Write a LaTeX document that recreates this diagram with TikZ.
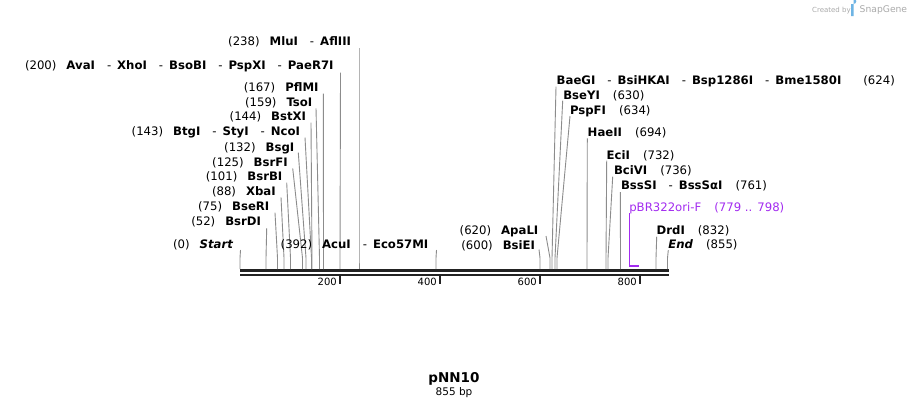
\documentclass[tikz,border=0pt]{standalone}
\usepackage{fontspec}
\setmainfont{DejaVu Sans}
\definecolor{siteGray}{RGB}{140,140,140}
\definecolor{barBlack}{RGB}{34,34,34}
\definecolor{primerPurple}{RGB}{163,44,240}
\definecolor{wmGray}{RGB}{170,170,170}
\definecolor{wmBlue}{RGB}{110,180,228}
\newcommand{\nm}[1]{\textbf{#1}}
\newcommand{\sepp}{\hspace{12pt}-\hspace{6pt}}
\newcommand{\gapn}{\hspace{10pt}}
\newcommand{\gapr}{\hspace{13pt}}
% left-side site: id, text, textx, texty, topx, topy, barx
\newcommand{\siteL}[7]{%
  \node[lab,anchor=base east] (L#1) at (#3,#4) {#2};
  \coordinate (T#1) at (#5,#6);
  \coordinate (K#1) at (#7,258);
  \coordinate (S#1) at (#7,269);
  \draw[siteline] (T#1) -- (K#1) -- (S#1);}
% right-side site
\newcommand{\siteR}[7]{%
  \node[lab,anchor=base west] (R#1) at (#3,#4) {#2};
  \coordinate (T#1) at (#5,#6);
  \coordinate (K#1) at (#7,258);
  \coordinate (S#1) at (#7,269);
  \draw[siteline] (T#1) -- (K#1) -- (S#1);}
\begin{document}
\begin{tikzpicture}[x=1pt,y=-1pt,
  lab/.style={inner sep=0pt,outer sep=0pt,font=\fontsize{11.7}{13}\selectfont,text=black},
  siteline/.style={draw=siteGray,line width=0.9pt},
  barstroke/.style={draw=barBlack,line width=#1},
  tickstroke/.style={draw=barBlack,line width=1.8pt},
  ticklab/.style={inner sep=0pt,font=\fontsize{10}{12}\selectfont,anchor=east}]
\useasboundingbox (0,0) rectangle (909,408);
\fill[white] (0,0) rectangle (909,408);

% watermark
\node[inner sep=0pt,anchor=base west,text=wmGray,font=\fontsize{7}{8}\selectfont] (wm1) at (812,12) {Created by};
\fill[wmBlue] (851,4) -- (853.5,4) arc[start angle=90,end angle=-90,radius=2.8] -- (853.5,9.6) -- (853.5,16) -- (851,16) -- cycle;
\node[inner sep=0pt,anchor=base west,text=wmGray,font=\fontsize{9.2}{10}\selectfont] (wm2) at (859.5,12.8) {SnapGene};

% sequence bar
\coordinate (B0) at (240,270.3); \coordinate (B1) at (668.5,270.3);
\coordinate (C0) at (240,274.8); \coordinate (C1) at (668.5,274.8);
\draw[barstroke=2.6pt] (B0) -- (B1);
\draw[barstroke=2.2pt] (C0) -- (C1);

% ticks
\foreach \v/\x in {200/340,400/440,600/540,800/640}{
  \coordinate (tk\v a) at (\x,275.5);
  \coordinate (tk\v b) at (\x,283.5);
  \draw[tickstroke] (tk\v a) -- (tk\v b);
  \node[ticklab] (tl\v) at (\x-3,281.8) {\v};
}

% left-side sites
\siteL{238}{(238)\gapn\nm{MluI}\sepp\nm{AflIII}}{351}{45.7}{359}{48}{359}
\siteL{200}{(200)\gapn\nm{AvaI}\sepp\nm{XhoI}\sepp\nm{BsoBI}\sepp\nm{PspXI}\sepp\nm{PaeR7I}}{333.5}{69.3}{340.5}{72.5}{340}
\siteL{167}{(167)\gapn\nm{PflMI}}{318.5}{91}{323.3}{93.5}{323.5}
\siteL{159}{(159)\gapn\nm{TsoI}}{312.3}{106.7}{316}{108.3}{319.5}
\siteL{144}{(144)\gapn\nm{BstXI}}{306}{120.7}{311}{122.7}{312}
\siteL{143}{(143)\gapn\nm{BtgI}\sepp\nm{StyI}\sepp\nm{NcoI}}{300}{135.7}{305}{137.5}{311.5}
\siteL{132}{(132)\gapn\nm{BsgI}}{294.3}{151}{298.3}{152.7}{306}
\siteL{125}{(125)\gapn\nm{BsrFI}}{287.7}{166}{292.7}{168.3}{302.5}
\siteL{101}{(101)\gapn\nm{BsrBI}}{282.3}{180.7}{286.7}{182.7}{290.5}
\siteL{88}{(88)\gapn\nm{XbaI}}{275.7}{195.7}{281}{197.3}{284}
\siteL{75}{(75)\gapn\nm{BseRI}}{269.3}{210.7}{275}{212.7}{277.5}
\siteL{52}{(52)\gapn\nm{BsrDI}}{261}{225.7}{266.7}{228.3}{266}
\siteL{0}{(0)\gapn\textbf{\itshape Start}}{233.3}{248.3}{240.5}{250}{240}
\siteL{392}{(392)\gapn\nm{AcuI}\sepp\nm{Eco57MI}}{428.3}{248.3}{436.5}{250}{436}
\siteL{620}{(620)\gapn\nm{ApaLI}}{538.3}{234.3}{546}{236}{550}
\siteL{600}{(600)\gapn\nm{BsiEI}}{535}{249}{539}{249.5}{540}

% right-side sites
\siteR{624}{\nm{BaeGI}\sepp\nm{BsiHKAI}\sepp\nm{Bsp1286I}\sepp\nm{Bme1580I}\hspace{22pt}(624)}{556.7}{84}{556}{86.7}{552}
\siteR{630}{\nm{BseYI}\gapr(630)}{563.3}{99.3}{562.7}{100.7}{555}
\siteR{634}{\nm{PspFI}\gapr(634)}{570}{114.3}{570}{116}{557}
\siteR{694}{\nm{HaeII}\gapr(694)}{587.7}{136}{587.3}{138.3}{587}
\siteR{732}{\nm{EciI}\gapr(732)}{606.7}{159}{606.7}{160.7}{606}
\siteR{736}{\nm{BciVI}\gapr(736)}{614}{174.3}{612.7}{176.7}{608}
\siteR{761}{\nm{BssSI}\sepp\nm{BssSαI}\gapr(761)}{621}{189}{620.3}{192}{620.5}
\siteR{832}{\nm{DrdI}\gapr(832)}{656.7}{234}{656.7}{236.7}{656}
\siteR{855}{\textbf{\itshape End}\gapr(855)}{668.3}{248.7}{668.3}{250}{667.5}

% primer
\node[lab,anchor=base west,text=primerPurple] (primer) at (629.3,211) {pBR322ori-F\gapr(779 .. 798)};
\coordinate (P0) at (629.7,213.3);
\coordinate (P1) at (629.7,265.8);
\coordinate (P2) at (638.5,265.8);
\draw[draw=primerPurple,line width=1pt] (P0) -- (P1);
\draw[draw=primerPurple,line width=2pt] (629.2,265.8) -- (P2);

% title
\node[inner sep=0pt,anchor=base,font=\fontsize{13.5}{15}\selectfont\bfseries] (title) at (454,382.7) {pNN10};
\node[inner sep=0pt,anchor=base,font=\fontsize{10.5}{12}\selectfont] (size) at (454,395.7) {855 bp};
\end{tikzpicture}
\end{document}
